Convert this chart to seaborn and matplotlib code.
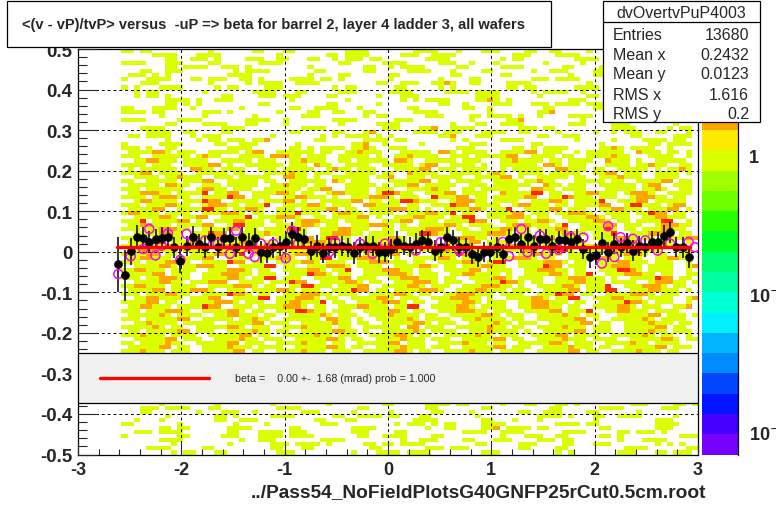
import numpy as np
import matplotlib
matplotlib.use("Agg")
import matplotlib.pyplot as plt
from matplotlib.colors import ListedColormap, BoundaryNorm
from matplotlib.patches import Rectangle
from matplotlib.lines import Line2D
from matplotlib.ticker import MultipleLocator, LogLocator, NullFormatter
import seaborn as sns

TITLE = "<(v - vP)/tvP> versus  -uP => beta for barrel 2, layer 4 ladder 3, all wafers"
X_TITLE = "../Pass54_NoFieldPlotsG40GNFP25rCut0.5cm.root"
FIT_TEXT = "beta =    0.00 +-  1.68 (mrad) prob = 1.000"

stats_name = "dvOvertvPuP4003"
stats_labels = ["Entries", "Mean x", "Mean y", "RMS x", "RMS y"]
stats_values = ["13680", "0.2432", "0.0123", "1.616", "0.2"]

x_ticks = [-3, -2, -1, 0, 1, 2, 3]
y_ticks = [0.5, 0.4, 0.3, 0.2, 0.1, 0.0, -0.1, -0.2, -0.3, -0.4, -0.5]
y_tick_labels = ["0.5", "0.4", "0.3", "0.2", "0.1", "0", "-0.1", "-0.2", "-0.3", "-0.4", "-0.5"]

# 2D histogram, read roughly cell by cell: columns of 0.06 from x=-2.64,
# rows of 0.01 from y=0.5 downwards.  y = ~1, Y = ~1.4, o = ~2, r = ~4
hist_x0 = -2.64
hist_dx = 0.06
hist_ncols = 94
hist_y0 = 0.5
hist_dy = 0.01
cell_values = {"y": 1.0, "Y": 1.4, "o": 2.0, "r": 4.0}
hist_rows = [
    ".yy.yy.........y......yy...yy........yyyy.......yyyy...y...yyy....yy..yy....y...yyy...y.......",
    "......yyyy...yyyy.........y.......yy.yyyy.....yyy..yyyy.........yyy....yyyy....yy.....yyyy..y.",
    "........yy..yyy.y....yyy..yy...yy..y.yyy.yy.......yyyy........y.yy........yyyy........yy.....y",
    ".yyyy...yyy....yy......yyyy.........yy.....yyyy.....yyy..y...y.......y.....y.....yyyy....yyyy.",
    "........yy.yyyy..yyy.y.........y........yy..y.yyyy.....yy.....yyyy......yy....yy..y.........yy",
    "....yy..yyy........y.yyyy.......yy......yy.....yyyy...y....yy......y..yyy....yyy.....yy....yyy",
    "..yyy.y.y.........yyyy.........y....yy......yy........yy......yy.........y...yy......yyyy...yy",
    ".y...yyyy...yy.yyy..yy.y....yyyy.yy.y.......y.......y....yy........yyy.yyyy......yy.yy...y....",
    "....yyy........y.....y.yyyy..yyyy.........yy..yyy..yyoy..yy....yyyy.........y.......y.....y...",
    ".y.y...yyyy.....y.yy....yyy........y.yy......yy.....y.y........yy.yy......yyyy.....y.........y",
    "...y.yy.......y.......yyyy...yy.....yyy.....yyyy.....yyyy.yyyy.....y.yyyy..y........yy.y......",
    "...y.yy.y........yy....yyy.yyy....yy......y...yyy.........yyyy......y.......yy.........yy.....",
    "........yyyy.y..yyy.........y........y........y.y.yyyy....yyoy.y.........yyy...y......yyy...y.",
    "........yy.y.y.........yy.........yy......y.........yy..y....yyy...yyy.yyyy.yyy.y.yyy.........",
    ".yy...yyyy..y.......y.......yy..yyyy...y.......yy.......yy..y........yy......yyy....yyy.yyy....",
    ".yyyy.yy......yyy.y.......y....yy..yy...yy......yyyy........y.......yyo........yy.......yyy.y.",
    ".......y......y.......y.......yyy.......y.yy......yyy....yy.yyyy.y..y....yyyy.....y....y.y....",
    ".yyyy.....yyyy.......yyyy..y.......yyyy......yyy.........y.....yyo.........y...yy....y.y......",
    "........yy....yyyy...yy....y........y.....yyyy........y...yy..yyyy.......yyy....yyy.......y...",
    "....yyyy.........yyyy.........yyyy.........yyy...yyo..yyyy.......yyy.yy.........yyyy.....y.yy.",
    ".....yyyy..yy....yy.........yy.....yy...yo......yyyy.yyy...yyyy..yy....y.....y..y.yyy..yy...y.",
    "..yy.yyyy...y.yyy........y.......y.y.yyyy.y.y.......yyo...yyy.......yy..yyy........yy.....yyy.",
    "........y....y.yy.yyy.yyo.......yy......yyyy.yy.......y.y.....yyyy........y.....y....yyyy.yy..",
    ".y.....yyyy.....yy..yyy......y........yyo..y.....y.......yyy.......yy.........y.......yy.yyyy.",
    ".yyy.y..yy........yyyy......yy.y.yyyy.yyoy..yyy........yyy......yy.y.yyyy.....yyoy.yyyy..y....",
    "..yyyyooy.yyy..yyyyy.yoo..yyyyyy.yy..yyoyyy...yyyyy.ooy.yyyy..yyyyoo.yyy..y.yyyyyy..oyyy.yy.y",
    ".yyy..yyyyyy.yoyy...yyyy.oooyy.yyy..yyyyy.y..yyoyyyy..yyy.yyyyyoo..yyyy.yy..yyyyoyy...yyyy..y.",
    "...yyooyyy.yyyy..yyyyy.yyy..yyoyyy..yy.yyyyy.ooy..yyyyy.yyy...yyoyyyy.yy.yyyy..oyyy.y..yyyyy..",
    ".yyyy.yyy..yyyyoo.y..yyyyyy.yyy.oyy..yyyy..yyyyy.yoo..yyyy.y..yyyyyy.ooy.yyy...yyyy.yyoyy..yy.",
    "..y.yyyyyy..ooyy.yyyy..yyy.yyyyy..yoyy.yyy...yyyyoo.yyy.yyyy..y.yyyyy..ooyyy.yy..yyyyy.y.yyoy.",
    ".yyyoo.yyyy..yyyyy.yy...yyyyoyy.yyy..yyyyy.yy..oyyyy..yyyyy.yoy..yyyy.yyyyy..yyoo.yyy..yyyy.y.",
    "...yyyy.yyoyyy..yyy.yyyyy..ooyy.y..yyyyyy.yyo..yyy.yyyyy..yyyyoo.y..yyyyy.yy..yyyoyyy..yyyy...",
    ".yy..yyyyy.yyyoo..yyyyy.yy..yyyyyy.oy.yyy...yyyyyoo.yy.yyyy..yyyy.yyoyy...yyyyy.yy..yyyyoo.yy.",
    "..yyyyy.ooyy..yyy.yyyyy..yyoyyy.yy...yyyyy.y.yyoo.yyyyy..yyy.yyyyyy..oyy.yyy..yyyyyy.yoo..yyy.",
    ".yyy.yyyyyy..yooyy.yyy..yyyyyy.yyoo..yyyy.yyy..yyyyoyy..yy.yyyyyy..ooyy.yyyy...yyyyy.yyoy..yy.",
    "..yyoooyy.yyyyr.yyoo..yyyyooy.yy..yooyyyy.yrroyy..yyyoo.yyyy..oyyyyrr.yy..yyooyyy.yoooy..yyyy.",
    ".yyyy.yoooyy..yyyyroo.yyy..yyooyyy.y..yyyoooy.yyy..ryyyoo.yy.yyyyyoo..yyroyyy.yyy..yoooyy.yy..",
    "...yooyyyy.yyyroo..yyyy.yyyoo.y..yyyyyoo.yy.yyrroyyy..yoooyy.yyyy..yyyooy.yyyyr..yyyoo.yyyyy..",
    ".yyy.yyyooyy..yoooyy.yyyr..yyyyooy.yyy..ooyyyy.yy..yyyroo.yyyy..yooyyy.yy.yyyyoo..yrryyy.yoo..",
    "..yyyyoo..yyyyrryy.yyooy..yyy.yyyyoo.yy..yyyoooyy.y..yyyyooy.yyr..yyyyoo.yyy..yyooyyy.yyyoo.y.",
    ".yooyyy.yyyy..yyyoooy.yy..yyyryyy..yooyy.yyyy..yyyooyyr.yy..yyyyoo.yyy.yyoooy..yyyy.yyroo.yy..",
    "...yyyyooy.yyoo..yyyyr.yyyoooy..yy.yyyyoo.y..yyyooyyy.yyrr..yyyoooy.yy..yyyyooy.yyy..yyooyyy..",
    ".yyyr.yyyyoo.y..yyyooyyy.yy..yoooyyy.yyyy..yyyoo.yyy.yyyyroo..yyy.yyooy..yyyyooy.yy.yyyyrr..y.",
    "..yyooyyy.yyyyoo..yrryyy..yyyyooy.yy..yyyoooy.y..yyyyooy.yyyy..yoooyyy.yr..yyyyoo.yyy..yoooyy.",
    ".yyy.yyoooyy..yyyyoo.yy.yyyyrry..yyyooyyy..yy.yyyyoooy.yy..yyyooyyy.yyyoo..yyyyry.yy.yyyooyy..",
    "...yyyyooyy.yyyroo..yyyyoyyy.yy..yyoooyy.yyyy..yyrroyy..yyyyoooy.yy..yyyooyy.yyyr..yyyoooy.yy.",
    ".yyoo.yyyyy..yyoooyy.yyy..yyyyoo.yrryy..yyyyooy.yyy..yyoooyy.y..yyyyroo.yyy..yyyyooy.yy..yyyoo",
    "..yyyyrr.yyyoo..yyyyooy.yy..yyyoooyy.y..yyyyooy.yyr..yyyyoo.yyyy..yyooyyyy.y..yyyoooy.yyyy..y.",
    ".yyy.yyyooyyy..yyooyyr.yyyy..yyyyoo.yy.yyyoooy..yyyyrr.yyy..yyyooyyy.yy..yyyyoooy.yy..yyyyoo..",
    "...yoooyyy.yyyy..yyyyooy.yy.yyyroo..yyyyooy.yyy..yyoooyy.yyy..yyyyoo.yyrry..yyyooyy.yyyy..yoo.",
    ".yyyyoo.yy..yyyyooyyr.yy..yyyoooyy.yyy..yyyyoo.yy..yyyyrooy.yyy..yyooyyy.yyyy..yyyoooy.yy..yy.",
    "..yyooyyy.yyyyoo..yyyy.yyyooy..yyrr.yyyoooyy.y..yyyyooy.yyy..yyyoooy.yy..yyyyrooy.yyy..yyooyy.",
    ".yyy.yyyoooy..yyyyroo.yy..yyyyooy.yyy..yyoooyyy.yy..yyyyooy.yrr..yyyyoooy.yy..yyyooyyy.yyy..y.",
    "...yyyyooy.yyoooyy..yyyyrr.yy..yyyoooy.yyyy..yyyyooy.yy.yyyooyy..yyyyroo.yyy..yyoooyy.yyyy..yo",
    ".yyooyyy.yyyy..yyyoooy.yy..yyyyooy.yyr..yyyoooyy.yy..yyyyoo.yyyy..yyoooyy.yy..yyyrroy.yyyy..y.",
    "..yyyyoo.yyy..yyyoooyy.yyy..yyyrooy.yy..yyyyoooy.yyy..yyooyyyy.y..yyyyooy.yyr..yyyoooyy.yy..yy.",
    ".yyy.yyoooyy..yyyyooy.yyrr.yyy..yyyyoo.yyy..yyoooyyy.yy..yyyyooy.yyyy..yyoooyyy.y..yyyyroo.yy..",
    "...yyyyooyy.yyyooo..yyyy.yyyroo..yyyyooy.yy..yyyoooy.yyy..yyyyrooy.yy..yyyooyyy.yyyy..yoooyy.y.",
    ".yyooyyy.yyyy..yyyyoooy.yy..yyrryyy.yyyoo..yyyyooy.yyy..yyyoooyy.y..yyyyooy.yyyr..yyyoooy.yy..",
    "..yyyyoo.yyyoooy..yyy.yyyyooy.yyy..yyyroo.yy.yyyyoooy..yyyooyyy.yyy..yyyyoo.yyyrr..yyyooyyy.y.",
    ".yyy.yyyooyy..yyyyrooy.yy..yyyoooyy.yyy..yyyyooy.yy..yyoooyyy.yyyy..yyyroo.yy..yyyyoooy.yyy...",
    "...yyooyyyy.yyyoo..yyyyrr.yyyoooy.yy..yyyyooy.yyy..yyyoooyy.y..yyyyooy.yyrr..yyyooyyy.yyyy..yo",
    ".yyyyoo.yy..yyyyoooy.yyy..yyooyyyr.yy..yyyyoooy.yy..yyyyooy.yyy..yyoooyyy.yy..yyyyrooy.yyy..y.",
    "..yyooyyy.yyyyroo..yyy.yyyyoooy.yy..yyyooyyy.yyrr..yyyyooy.yyyy..yyoooyy.yy..yyyyooy.yyy..yyo.",
    ".yyy.yyyoooy..yyyyooy.yy..yyyrroyy.yyy..yyyyooy.yy..yyyoooyy.yyy..yyyyoo.yyyr..yyooyyy.yyyy...",
    "..yyyyyoy.yyyy..yyooyyy.yy..yyyyyoy.yyy..yyyoyyyy.yy..yyyyyooy.yyy..yyyyoyy.yy...yyyyyoo.yyy.y.",
    ".yyy.yyyyyoo..yyyyy.yyoyy..yyyyyy.ooyy.y..yyyyyoy.yyyy..yyoyyyy.yy..yyyyyyoo.y..yyyyyoy.yyyy...",
    "...yyoyyyy.yyyyy..yyyyoo.yyy..yyyyyoyy.yy..yyyyyooy.yyy..yyyyoyy.yyy..yyyyyoo.yy..yyyyoyyy.yy..",
    ".yyyyyoy.yy..yyyyyooy.yyy..yyyoyyyy.yy..yyyyyy.oo.yyy..yyyyyoyy.yy..yyyyoyyy.yyy..yyyyyoo.yy...",
    "..yy.yyyyyoo.yyy..yyyyoyy.yy..yyyyyooyy.y..yyyyyoy.yyyy..yyyoyyyy.y..yyyyyoo.yyy..yyyyoyy.yyy..",
    ".yyyoyyy.yyyy..yyyyyoo.yy..yyyyyoyy.yyy..yyyyooy.yy..yyyyyoyy.yyy..yyyyoo.yyyy..yyyyyoy.yy..y..",
    "...yyyyyoo.yyy..yyyyoyy.yyy..yyyyyooy.yy..yyyyoyyy.yyy..yyyyyoo.yy..yyyyoyyy.yyyy..yyyyyooy.yy.",
    ".yy.yyyyoyy..yyyyyoo.yyy..yyyyoyyy.yy..yyyyyoo.yyy..yyyyoyyy.yy..yyyyyooy.yyy..yyyyoyy.yyyy...",
    "..yyyyyoo.yy..yyyyoyyy.yyyy..yyyyyooy.yy..yyyyoyyy.yyy..yyyyyoo.yyy..yyyyoyyy.yy..yyyyyoo.yyy..",
    ".yyyoyyy.yyy..yyyyyoo.yy..yyyyoyyy.yyy..yyyyyooy.yy..yyyyoyyy.yyyy..yyyyyoo.yy..yyyyoyyy.yy...",
    # rows -0.25 .. -0.37 sit under the fit box and cannot be read
    "", "", "", "", "", "", "", "", "", "", "", "",
    ".......y........y........y........y........yy.....yyyy.yy.....y...yy...yy.y........yyy....yy.y",
    "....yyy.yyyy...yy.........yyyy.........yy.........yy.......yy.........yy......yyyy......yyy...",
    "....yy.......y...yyy..y.......yyy.....y.....y......yy....y.......yy..yyy....yy......y.........",
    "........y.......yy.y.....yyyy......yy..yyyy.yy...yy.......y.........yyyy.y...yy..yyyy.....y...",
    "...y...y........yy..yyy.........yy...yy.........yyyy.......yy...y...y........y.........yyy....",
    ".yy.......y........y....y........yyy.........y.yyy.y.yy....yyyy........yyyy.yy.........yyyy...",
    ".......yy.yy......yyyy......yy........yyyy........y..yy....yyo.yyyy.yy........yy.......yyy....",
    "...yyy.yyyy.......yy...yyyy.yyy.......yyy....yy.........yyyy..yyyy......yyyy.....yy.yyy.y......",
    ".y........yy.....yyy...yyyy.yyyy.......yy..yyyy....yy.........y...yyy..yy.....yy.y.........yyy",
    ".......yyyy.........y..yyy.......yyyy.........y..yyy....yy...yyy....yyy.yy.......y...yyyy......",
    ".........y........y......yyy.yyyy.y.....yy.yy.yyyy........yy.....yyy....yy...yyy.......y.y.y..",
    ".....yyyy.....yy.........yy...yy.........yy.......yyy.yyy........yy....yy.........yyyy......yy",
    ".........y.yy...yy........yyy.........y...yyyy.yyyy........yyy.........y.y.......yyy...yy.yyy.",
]

# black profile: one point per 0.06 bin starting at x=-2.61
prof_x0 = -2.61
prof_y = [-0.031, -0.058, 0.001, 0.037, 0.034, 0.024, 0.032, 0.034, 0.036, 0.011,
          -0.023, 0.015, 0.037, 0.020, 0.011, 0.037, 0.011, 0.034, 0.034, 0.011,
          0.037, 0.020, 0.034, -0.001, -0.003, 0.011, 0.015, 0.024, 0.044, 0.036,
          0.032, 0.003, 0.015, -0.003, 0.011, 0.011, 0.015, 0.011, -0.003, 0.011,
          0.015, 0.015, -0.001, -0.001, 0.007, 0.024, 0.015, 0.011, 0.020, 0.028,
          0.024, 0.003, 0.011, 0.037, 0.028, 0.011, 0.011, -0.005, -0.013, -0.001,
          -0.001, 0.011, -0.005, 0.032, 0.036, 0.020, 0.037, 0.015, 0.032, 0.032,
          0.015, 0.028, 0.028, 0.024, 0.032, 0.007, -0.012, -0.007, 0.021, -0.001,
          0.020, 0.011, 0.021, 0.003, 0.015, 0.011, 0.024, 0.024, 0.039, 0.048,
          0.011, 0.011, -0.013]
prof_err = [0.068, 0.063, 0.033, 0.030, 0.026, 0.028, 0.025, 0.027, 0.024, 0.026,
            0.030, 0.025, 0.026, 0.024, 0.027, 0.025, 0.026, 0.024, 0.028, 0.025,
            0.024, 0.026, 0.025, 0.027, 0.024, 0.026, 0.025, 0.024, 0.030, 0.026,
            0.025, 0.024, 0.027, 0.025, 0.024, 0.026, 0.025, 0.024, 0.026, 0.025,
            0.024, 0.025, 0.026, 0.024, 0.025, 0.026, 0.024, 0.025, 0.027, 0.025,
            0.024, 0.026, 0.025, 0.024, 0.026, 0.025, 0.024, 0.026, 0.025, 0.024,
            0.025, 0.026, 0.024, 0.025, 0.026, 0.024, 0.025, 0.027, 0.024, 0.025,
            0.026, 0.024, 0.025, 0.026, 0.024, 0.025, 0.027, 0.026, 0.028, 0.025,
            0.026, 0.024, 0.025, 0.026, 0.025, 0.024, 0.026, 0.025, 0.027, 0.026,
            0.025, 0.026, 0.028]

# magenta open circles (only the ones not hidden by the black points)
mag_x = [-2.61, -2.49, -2.37, -2.31, -2.25, -2.19, -2.13, -2.01, -1.95, -1.89,
         -1.77, -1.65, -1.53, -1.47, -1.35, -1.29, -1.23, -1.11, -0.99, -0.93,
         -0.87, -0.57, -0.51, -0.27, -0.15, -0.03, 0.27, 0.51, 0.69, 1.11,
         1.17, 1.29, 1.35, 1.47, 1.53, 1.65, 1.77, 1.89, 2.07, 2.13,
         2.19, 2.25, 2.37, 2.49, 2.61, 2.73, 2.91, 2.97]
mag_y = [-0.055, -0.011, 0.007, 0.056, -0.009, 0.015, 0.045, -0.020, 0.044, 0.024,
         0.028, 0.020, -0.005, 0.052, -0.005, -0.013, 0.020, 0.020, -0.016, 0.052,
         0.020, -0.001, 0.024, 0.020, -0.005, 0.020, 0.003, 0.024, 0.003, 0.024,
         -0.011, 0.056, -0.001, 0.040, -0.005, 0.005, 0.036, 0.035, -0.029, 0.063,
         -0.013, 0.036, 0.032, 0.028, 0.003, 0.020, 0.024, 0.011]

# straight-line fit
fit_x = [-2.62, 2.92]
fit_y = [0.012, 0.012]

# palette: 20 bands on a log scale
pal_log_min = -2.163
pal_log_max = 0.772
pal_colors = ["#7800ff", "#4600ff", "#0014ff", "#0046ff", "#008cff",
              "#00b4ff", "#00f0ff", "#00ffd2", "#00ffa0", "#00ff6e",
              "#00ff28", "#28ff00", "#6eff00", "#a0ff00", "#dcff00",
              "#ffeb00", "#ffa500", "#ff6400", "#ff2800", "#ff0000"]

W, H = 776, 506


def fx(px):
    return px / W


def fy(py):
    return 1 - py / H


sns.set_style("white")
plt.rcParams["font.family"] = ["Liberation Sans", "DejaVu Sans"]
plt.rcParams["patch.force_edgecolor"] = False

fig = plt.figure(figsize=(7.76, 5.06), dpi=100)
ax = fig.add_axes([fx(78), fy(455.5), fx(698) - fx(78), fy(50) - fy(455.5)])

# histogram cells
n_rows = len(hist_rows)
Z = np.full((n_rows, hist_ncols), np.nan)
for r, row in enumerate(hist_rows):
    row = row.ljust(hist_ncols, ".")[:hist_ncols]
    for c, ch in enumerate(row):
        if ch in cell_values:
            Z[r, c] = cell_values[ch]
x_edges = hist_x0 + hist_dx * np.arange(hist_ncols + 1)
y_edges = hist_y0 - hist_dy * np.arange(n_rows + 1)
pal_edges = 10 ** np.linspace(pal_log_min, pal_log_max, len(pal_colors) + 1)
pal_cmap = ListedColormap(pal_colors)
pal_norm = BoundaryNorm(pal_edges, len(pal_colors))
ax.pcolormesh(x_edges, y_edges, np.ma.masked_invalid(Z), cmap=pal_cmap,
              norm=pal_norm, edgecolors="none", linewidth=0,
              antialiased=False, zorder=1)

# profile points
prof_x = prof_x0 + hist_dx * np.arange(len(prof_y))
ax.errorbar(prof_x, prof_y, yerr=prof_err, fmt="none", ecolor="black",
            elinewidth=1.1, zorder=4)
sns.scatterplot(x=mag_x, y=mag_y, s=42, color="none", edgecolor="#ff00ff",
                linewidth=1.1, zorder=4, ax=ax)
sns.scatterplot(x=prof_x, y=prof_y, s=32, color="black", edgecolor="black",
                linewidth=0.5, zorder=5, ax=ax)
sns.lineplot(x=fit_x, y=fit_y, color="red", lw=2.4, zorder=6, ax=ax)

ax.set_xlim(-3, 3)
ax.set_ylim(-0.5, 0.5)
ax.set_xlabel("")
ax.set_ylabel("")
ax.set_xticks(x_ticks)
ax.set_xticklabels([str(t) for t in x_ticks])
ax.set_yticks(y_ticks)
ax.set_yticklabels(y_tick_labels)
ax.xaxis.set_minor_locator(MultipleLocator(0.2))
ax.yaxis.set_minor_locator(MultipleLocator(0.02))
ax.tick_params(axis="x", which="major", direction="in", length=8.6, width=0.8,
               bottom=True, top=False, pad=5, labelsize=13)
ax.tick_params(axis="x", which="minor", direction="in", length=4.3, width=0.8,
               bottom=True, top=False)
ax.tick_params(axis="y", which="major", direction="in", length=13.7, width=0.8,
               left=True, right=False, pad=4, labelsize=13.5)
ax.tick_params(axis="y", which="minor", direction="in", length=6.8, width=0.8,
               left=True, right=False)
for lab in ax.get_xticklabels() + ax.get_yticklabels():
    lab.set_fontweight("bold")
ax.grid(True, which="major", color="black", linestyle=(0, (3, 3)), linewidth=0.7)
ax.set_axisbelow(False)
for sp in ax.spines.values():
    sp.set_color("black")
    sp.set_linewidth(0.9)

# fit box inside the frame
box_y0 = (455.5 - 404) / 405.5
box_h = 50 / 405.5
ax.add_patch(Rectangle((0, box_y0), 1.0, box_h, transform=ax.transAxes,
                       facecolor="#f0f0f0", edgecolor="black", lw=0.9, zorder=7))
ax.add_line(Line2D([0.036, 0.211], [box_y0 + box_h / 2] * 2, transform=ax.transAxes,
                   color="red", lw=2.4, zorder=8))
ax.text(0.253, box_y0 + box_h / 2, FIT_TEXT, transform=ax.transAxes,
        fontsize=7.7, va="center", ha="left", zorder=8)

# palette axis
cax = fig.add_axes([fx(702), fy(455.5), fx(737.5) - fx(702), fy(50) - fy(455.5)])
cax.set_yscale("log")
cax.set_ylim(pal_edges[0], pal_edges[-1])
for lo, hi, col in zip(pal_edges[:-1], pal_edges[1:], pal_colors):
    cax.axhspan(lo, hi, color=col, lw=0)
cax.set_xticks([])
for name in ["left", "top", "bottom"]:
    cax.spines[name].set_visible(False)
cax.spines["right"].set_color("black")
cax.spines["right"].set_linewidth(0.9)
cax.yaxis.tick_right()
cax.set_yticks([0.01, 0.1, 1])
cax.set_yticklabels(["10$^{-2}$", "10$^{-1}$", "1"])
cax.yaxis.set_minor_locator(LogLocator(base=10, subs=np.arange(2, 10)))
cax.yaxis.set_minor_formatter(NullFormatter())
cax.tick_params(axis="y", which="major", direction="in", length=13, width=0.8,
                pad=8, labelsize=13, left=False, right=True)
cax.tick_params(axis="y", which="minor", direction="in", length=6.5, width=0.8,
                left=False, right=True)
for lab in cax.get_yticklabels():
    lab.set_fontweight("bold")

# title box
fig.patches.append(Rectangle((fx(7), fy(48.3)), fx(551) - fx(7), fy(2.3) - fy(48.3),
                             transform=fig.transFigure, facecolor="white",
                             edgecolor="black", lw=0.9, zorder=10))
fig.text(fx(21.5), fy(25), TITLE, fontsize=10.5, fontweight="bold",
         ha="left", va="center", zorder=11)

# stats box
fig.patches.append(Rectangle((fx(603), fy(123)), fx(760) - fx(603), fy(2) - fy(123),
                             transform=fig.transFigure, facecolor="white",
                             edgecolor="black", lw=0.9, zorder=10))
fig.add_artist(Line2D([fx(603), fx(760)], [fy(23), fy(23)], color="black",
                      lw=0.9, zorder=11))
fig.text(fx(681.5), fy(13), stats_name, fontsize=11.5, ha="center", va="center", zorder=11)
for i, (lab, val) in enumerate(zip(stats_labels, stats_values)):
    yy = [35, 55.5, 74.5, 95.5, 114.5][i]
    fig.text(fx(613), fy(yy), lab, fontsize=11.5, ha="left", va="center", zorder=11)
    fig.text(fx(749), fy(yy), val, fontsize=11.5, ha="right", va="center", zorder=11)

# x axis title
fig.text(fx(706), fy(493), X_TITLE, fontsize=13.8, fontweight="bold",
         ha="right", va="center")

fig.savefig("out.png", dpi=100)
